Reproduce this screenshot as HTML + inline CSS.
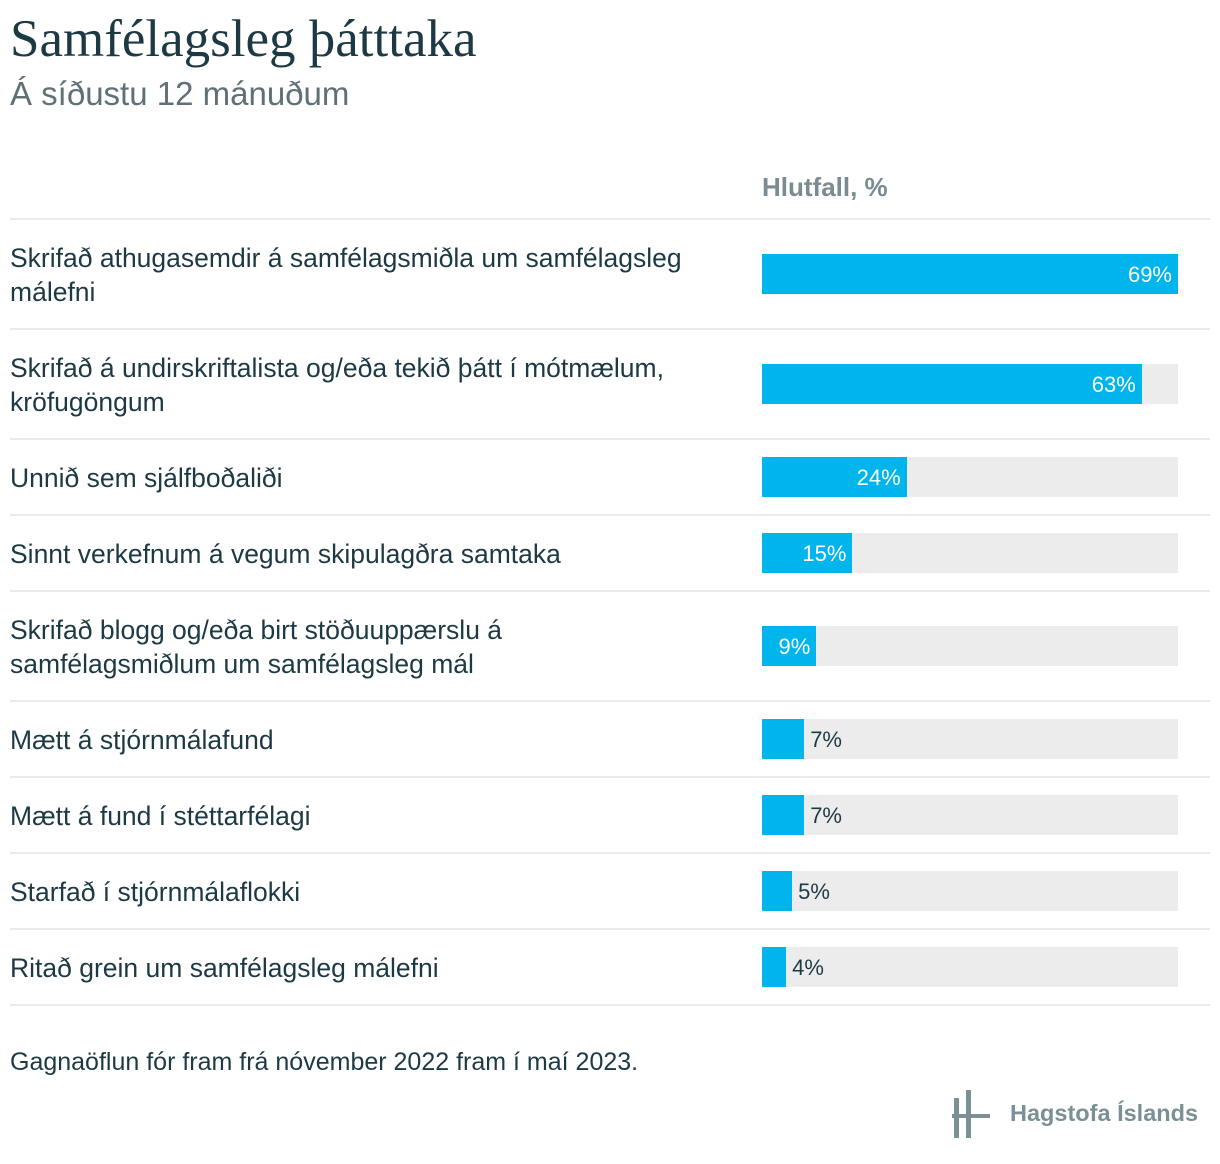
<!DOCTYPE html>
<html><head><meta charset="utf-8">
<style>
body{margin:0;background:#fff;font-family:"Liberation Sans",sans-serif;color:#1d3a44;}
#wrap{position:relative;width:1220px;height:1164px;overflow:hidden;}
.t{position:absolute;white-space:nowrap;}
</style></head>
<body><div id="wrap">
<div class="t" style="left:10px;top:9px;font-family:'Liberation Serif',serif;font-size:53px;color:#1d3a44;">Samfélagsleg þátttaka</div>
<div class="t" style="left:10px;top:75px;font-size:33px;color:#5f7076;">Á síðustu 12 mánuðum</div>
<div class="t" style="left:762px;top:172px;font-size:26px;font-weight:bold;color:#7a8c91;">Hlutfall, %</div>
<div class="t" style="left:10px;top:1048px;font-size:25px;color:#1d3a44;">Gagnaöflun fór fram frá nóvember 2022 fram í maí 2023.</div>
<div style="position:absolute;left:952px;top:1090px;width:250px;height:50px;">
<svg width="40" height="50"><rect x="2" y="8" width="5" height="16" fill="#7a9095"/><rect x="2" y="28" width="5" height="20" fill="#7a9095"/><rect x="14" y="0" width="5" height="48" fill="#7a9095"/><rect x="0" y="24" width="38" height="4" fill="#7a9095"/></svg>
<div class="t" style="left:58px;top:10px;font-size:23.5px;font-weight:bold;color:#7a9095;">Hagstofa Íslands</div>
</div>
</div>
<script>
const categories=["Skrifað athugasemdir á samfélagsmiðla um samfélagsleg|málefni","Skrifað á undirskriftalista og/eða tekið þátt í mótmælum,|kröfugöngum","Unnið sem sjálfboðaliði","Sinnt verkefnum á vegum skipulagðra samtaka","Skrifað blogg og/eða birt stöðuuppærslu á|samfélagsmiðlum um samfélagsleg mál","Mætt á stjórnmálafund","Mætt á fund í stéttarfélagi","Starfað í stjórnmálaflokki","Ritað grein um samfélagsleg málefni"];
const values=[69,63,24,15,9,7,7,5,4];
const maxV=69;
const x0=762,trackW=416;
function xs(v){return v/maxV*trackW;}
const wrap=document.getElementById('wrap');
let y=218;
function hr(yy){const d=document.createElement('div');


d.style.cssText=`position:absolute;left:10px;width:1200px;top:${yy}px;height:2px;background:#ebebeb;`;wrap.appendChild(d);}
hr(y);
categories.forEach((c,i)=>{
 const lines=c.split('|');const h=lines.length>1?110:76;
 const cy=y+h/2;
 const lab=document.createElement('div');
 
 
 lab.className='t';lab.style.cssText=`left:10px;top:${cy-lines.length*17+2}px;font-size:26.5px;line-height:34px;color:#1d3a44;`;
 lab.innerHTML=lines.join('<br>');wrap.appendChild(lab);
 const tr=document.createElement('div');
 
 
 tr.style.cssText=`position:absolute;left:${x0}px;top:${cy-19}px;width:${trackW}px;height:40px;background:#ececec;`;wrap.appendChild(tr);
 const w=xs(values[i]);
 const b=document.createElement('div');
 
 
 b.style.cssText=`position:absolute;left:${x0}px;top:${cy-19}px;width:${w}px;height:40px;background:#00b4ec;`;wrap.appendChild(b);
 const v=document.createElement('div');
 
 
 v.className='t';v.textContent=values[i]+'%';
 if(w>48){v.style.cssText=`right:${1220-(x0+w)+6}px;top:${cy-11}px;font-size:22px;color:#fff;`;}
 else{v.style.cssText=`left:${x0+w+6}px;top:${cy-11}px;font-size:22px;color:#1d3a44;`;}
 wrap.appendChild(v);
 y+=h;hr(y);
});
</script>
</body></html>
